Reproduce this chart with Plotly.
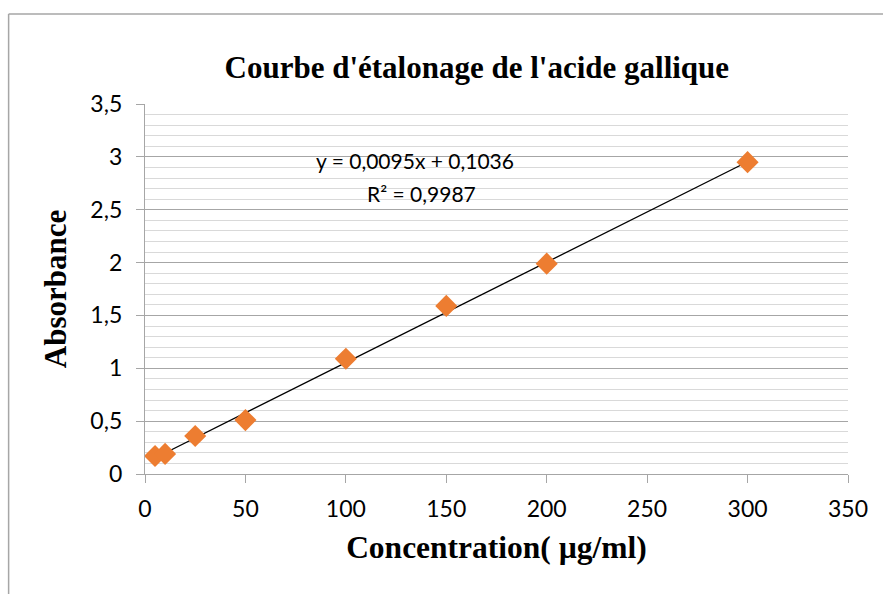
import plotly.graph_objects as go

# Gallic acid standard solutions
concentration = [5, 10, 25, 50, 100, 150, 200, 300]          # µg/ml
absorbance = [0.17, 0.19, 0.36, 0.51, 1.09, 1.59, 1.99, 2.95]

# Linear regression reported on the chart
slope = 0.0095
intercept = 0.1036
r_squared = 0.9987
equation_text = "y = 0,0095x + 0,1036"
r2_text = "R² = 0,9987"

x_ticks = [0, 50, 100, 150, 200, 250, 300, 350]
y_ticks = [0, 0.5, 1, 1.5, 2, 2.5, 3, 3.5]
y_tick_labels = ["0", "0,5", "1", "1,5", "2", "2,5", "3", "3,5"]

fit_x = [min(concentration), max(concentration)]
fit_y = [slope * v + intercept for v in fit_x]

sans = "Lato, Open Sans, sans-serif"
tick_font = dict(family=sans, size=23, color="#000000")
serif_bold = "Liberation Serif, Times New Roman, serif"

fig = go.Figure()

fig.add_trace(go.Scatter(
    x=fit_x, y=fit_y, mode="lines",
    line=dict(color="#000000", width=1.3),
    showlegend=False, hoverinfo="skip",
))

fig.add_trace(go.Scatter(
    x=concentration, y=absorbance, mode="markers",
    marker=dict(symbol="diamond", size=17, color="#ED7D31"),
    showlegend=False,
))

fig.add_annotation(
    x=0.384, y=0.846, xref="paper", yref="paper",
    xanchor="center", yanchor="middle",
    text=equation_text, showarrow=False,
    font=dict(family=sans, size=21, color="#000000"),
)
fig.add_annotation(
    x=0.394, y=0.759, xref="paper", yref="paper",
    xanchor="center", yanchor="middle",
    text=r2_text, showarrow=False,
    font=dict(family=sans, size=21, color="#000000"),
)

# Chart-area frame (top and left edges)
frame_color = "#a6a6a6"
fig.add_shape(type="line", xref="paper", yref="paper",
              x0=-0.194, y0=1.2432, x1=1.06, y1=1.2432,
              line=dict(color=frame_color, width=1.5))
fig.add_shape(type="line", xref="paper", yref="paper",
              x0=-0.194, y0=1.2432, x1=-0.194, y1=-0.33,
              line=dict(color=frame_color, width=1.5))

fig.update_layout(
    width=883, height=594,
    margin=dict(l=145, r=35, t=104, b=120),
    paper_bgcolor="#ffffff", plot_bgcolor="#ffffff",
    separators=", ",
    title=dict(
        text="<b>Courbe d'étalonage de l'acide gallique</b>",
        x=0.54, xref="container", xanchor="center",
        y=0.887, yref="container", yanchor="middle",
        font=dict(family=serif_bold, size=31, color="#000000"),
    ),
    xaxis=dict(
        range=[0, 350], tickvals=x_ticks, ticks="outside", ticklen=8,
        tickcolor="#a6a6a6", tickwidth=1.3,
        showgrid=False, zeroline=False,
        showline=True, linecolor="#a6a6a6", linewidth=1.3,
        tickfont=tick_font, ticklabelstandoff=6,
        title=dict(text="<b>Concentration( µg/ml)</b>",
                   font=dict(family=serif_bold, size=31.5, color="#000000"),
                   standoff=15),
    ),
    yaxis=dict(
        range=[0, 3.5], tickvals=y_ticks, ticktext=y_tick_labels,
        ticks="outside", ticklen=8, tickcolor="#a6a6a6", tickwidth=1.3,
        showgrid=True, gridcolor="#a6a6a6", gridwidth=1.3,
        zeroline=False,
        showline=True, linecolor="#a6a6a6", linewidth=1.3,
        minor=dict(dtick=0.1, showgrid=True, gridcolor="#d9d9d9", gridwidth=1.3),
        tickfont=tick_font, ticklabelstandoff=9,
        title=dict(text="<b>Absorbance</b>",
                   font=dict(family=serif_bold, size=31, color="#000000"),
                   standoff=14),
    ),
)

fig.write_html("out.html")
